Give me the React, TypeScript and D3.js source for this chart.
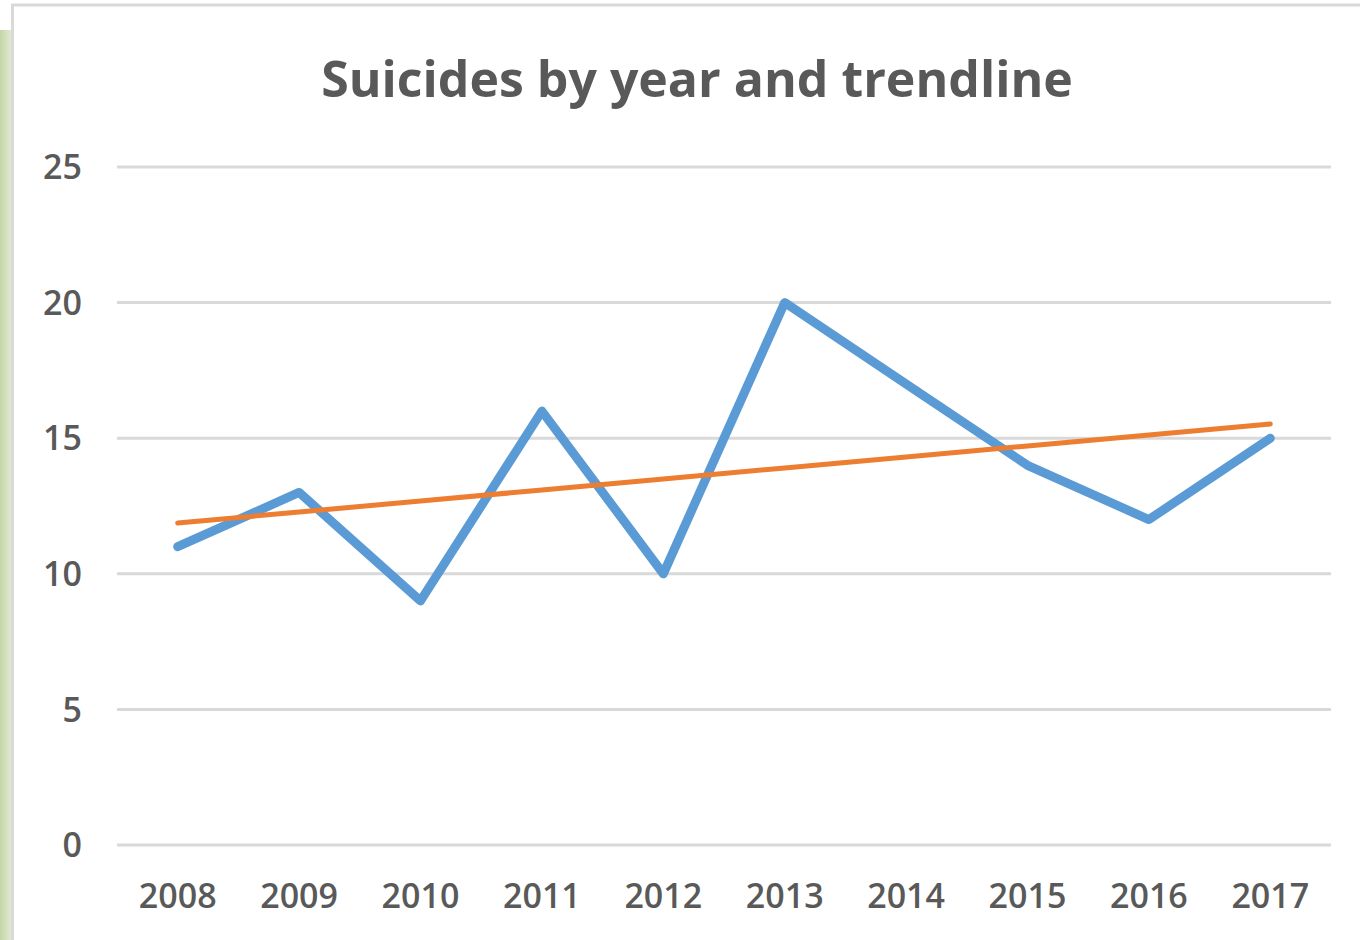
import { useEffect, useRef } from 'react'
import * as d3 from 'd3'

const years = ['2008', '2009', '2010', '2011', '2012', '2013', '2014', '2015', '2016', '2017']
const suicides = [11, 13, 9, 16, 10, 20, 17, 14, 12, 15]
const yTicks = [0, 5, 10, 15, 20, 25]

const WIDTH = 1360
const HEIGHT = 940

// least-squares fit over the category index, like Excel's linear trendline
const linearFit = (values: number[]) => {
  const mx = d3.mean(values.map((_, i) => i)) as number
  const my = d3.mean(values) as number
  let sxy = 0
  let sxx = 0
  values.forEach((v, i) => {
    sxy += (i - mx) * (v - my)
    sxx += (i - mx) * (i - mx)
  })
  const slope = sxy / sxx
  const intercept = my - slope * mx
  return values.map((_, i) => intercept + slope * i)
}

export default function App() {
  const svgRef = useRef<SVGSVGElement>(null)

  useEffect(() => {
    if (!svgRef.current) return
    document.body.style.margin = '0'

    const svg = d3.select(svgRef.current)
    svg.selectAll('*').remove()

    const font = "'Open Sans', 'Noto Sans', sans-serif"
    const left = 117
    const right = 1331
    const top = 167
    const bottom = 845

    // pale green strip of the slide behind the chart
    const grad = svg.append('defs').append('linearGradient').attr('id', 'bg').attr('x1', 0).attr('x2', 1)
    grad.append('stop').attr('offset', '0%').attr('stop-color', '#c4d6a8')
    grad.append('stop').attr('offset', '100%').attr('stop-color', '#e2ebd2')
    svg.append('rect').attr('width', WIDTH).attr('height', HEIGHT).attr('fill', '#ffffff')
    svg.append('rect').attr('x', 0).attr('y', 30).attr('width', 12).attr('height', HEIGHT).attr('fill', 'url(#bg)')

    // chart area border
    svg
      .append('rect')
      .attr('x', 12.5)
      .attr('y', 5)
      .attr('width', WIDTH + 20)
      .attr('height', HEIGHT + 20)
      .attr('fill', '#ffffff')
      .attr('stroke', '#d9d9d9')
      .attr('stroke-width', 3)

    const x = d3.scalePoint<string>().domain(years).range([left, right]).padding(0.5)
    const y = d3.scaleLinear().domain([0, 25]).range([bottom, top])

    // gridlines
    svg
      .append('g')
      .selectAll('line')
      .data(yTicks)
      .enter()
      .append('line')
      .attr('x1', left)
      .attr('x2', right)
      .attr('y1', (d) => y(d))
      .attr('y2', (d) => y(d))
      .attr('stroke', '#d9d9d9')
      .attr('stroke-width', 3)

    // y tick labels
    svg
      .append('g')
      .selectAll('text')
      .data(yTicks)
      .enter()
      .append('text')
      .attr('x', 82)
      .attr('y', (d) => y(d))
      .attr('dy', '0.36em')
      .attr('text-anchor', 'end')
      .attr('font-family', font)
      .attr('font-size', 34)
      .attr('font-weight', 600)
      .attr('fill', '#595959')
      .text((d) => d)

    // x tick labels
    svg
      .append('g')
      .selectAll('text')
      .data(years)
      .enter()
      .append('text')
      .attr('x', (d) => x(d) as number)
      .attr('y', 908)
      .attr('text-anchor', 'middle')
      .attr('font-family', font)
      .attr('font-size', 34)
      .attr('font-weight', 600)
      .attr('fill', '#595959')
      .text((d) => d)

    const line = d3
      .line<number>()
      .x((_, i) => x(years[i]) as number)
      .y((d) => y(d))

    svg
      .append('path')
      .datum(suicides)
      .attr('d', line)
      .attr('fill', 'none')
      .attr('stroke', '#5b9bd5')
      .attr('stroke-width', 9)
      .attr('stroke-linejoin', 'round')
      .attr('stroke-linecap', 'round')

    // linear trendline
    svg
      .append('path')
      .datum(linearFit(suicides))
      .attr('d', line)
      .attr('fill', 'none')
      .attr('stroke', '#ed7d31')
      .attr('stroke-width', 5)
      .attr('stroke-linecap', 'round')

    // title
    svg
      .append('text')
      .attr('x', 697)
      .attr('y', 97)
      .attr('text-anchor', 'middle')
      .attr('font-family', font)
      .attr('font-size', 50)
      .attr('font-weight', 700)
      .attr('fill', '#595959')
      .text('Suicides by year and trendline')
  }, [])

  return <svg ref={svgRef} width={WIDTH} height={HEIGHT} style={{ display: 'block' }} />
}
